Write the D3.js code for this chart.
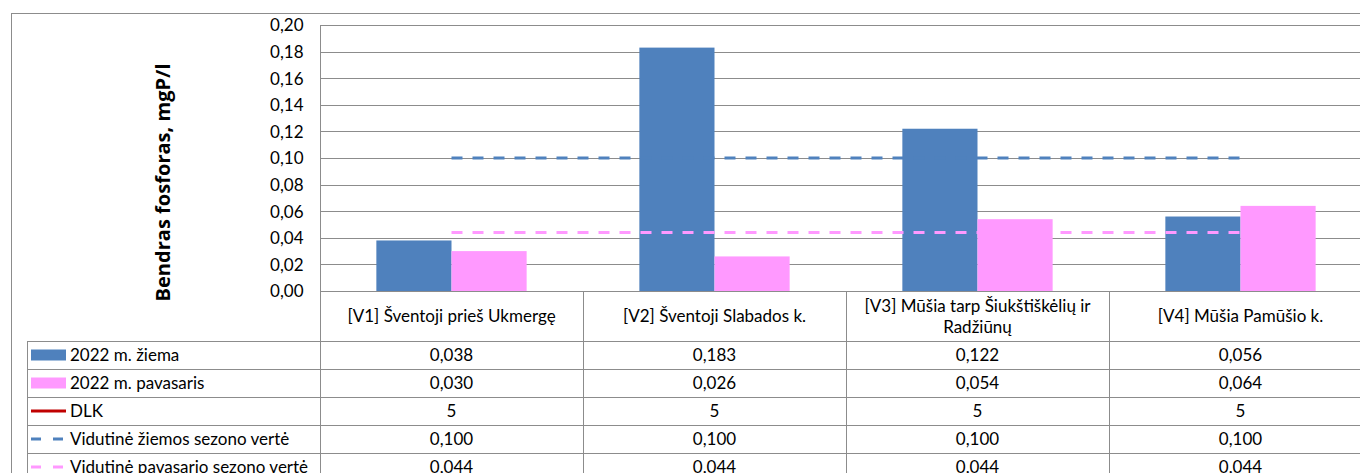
<!DOCTYPE html>
<html lang="lt">

<head>
    <meta charset="utf-8">
    <title>Bendras fosforas</title>
    <script type="text/javascript" src="https://d3js.org/d3.v7.min.js"></script>
    <style>
        body {
            margin: 0;
            background: white;
        }

        svg text {
            font-family: Lato, "Open Sans", sans-serif;
            font-size: 17px;
            fill: #000;
        }
    </style>
</head>

<body>
    <div id="chart"></div>
    <script type="text/javascript">
        // data
        const categories = ["[V1] Šventoji prieš Ukmergę", "[V2] Šventoji Slabados k.",
            "[V3] Mūšia tarp Šiukštiškėlių ir Radžiūnų", "[V4] Mūšia Pamūšio k."];
        const seriesNames = ["2022 m. žiema", "2022 m. pavasaris", "DLK",
            "Vidutinė žiemos sezono vertė", "Vidutinė pavasario sezono vertė"];
        const ziema = [0.038, 0.183, 0.122, 0.056];
        const pavasaris = [0.030, 0.026, 0.054, 0.064];
        const dlk = [5, 5, 5, 5];
        const vidZiema = [0.100, 0.100, 0.100, 0.100];
        const vidPavasaris = [0.044, 0.044, 0.044, 0.044];
        const yTicks = [0, 0.02, 0.04, 0.06, 0.08, 0.10, 0.12, 0.14, 0.16, 0.18, 0.20];

        const width = 1360;
        const height = 473;
        const plot = { left: 320, top: 25, bottom: 291, band: 263 };
        const rowH = 28;
        const tableTop = 341;
        const gridColor = "#8c8c8c";

        const lt = d3.formatLocale({ decimal: ",", thousands: " ", grouping: [3], currency: ["", ""] });
        const f2 = lt.format(".2f");
        const f3 = lt.format(".3f");

        const series = [
            { name: seriesNames[0], values: ziema, type: "bar", color: "#4f81bd", fmt: f3 },
            { name: seriesNames[1], values: pavasaris, type: "bar", color: "#ff99ff", fmt: f3 },
            { name: seriesNames[2], values: dlk, type: "line", color: "#c00000", fmt: lt.format("d") },
            { name: seriesNames[3], values: vidZiema, type: "dash", color: "#4f81bd", fmt: f3 },
            { name: seriesNames[4], values: vidPavasaris, type: "dash", color: "#ff99ff", fmt: f3 }
        ];
        const bars = series.filter(s => s.type === "bar");

        const svg = d3.select("#chart")
            .append("svg")
            .attr("width", width)
            .attr("height", height);

        // chart border
        svg.append("rect")
            .attr("x", 11.5).attr("y", 13.5)
            .attr("width", width + 40).attr("height", height + 40)
            .attr("fill", "white")
            .attr("stroke", gridColor);

        const x = d3.scaleBand()
            .domain(categories)
            .range([plot.left, plot.left + plot.band * categories.length]);
        const xIn = d3.scaleBand()
            .domain(bars.map(s => s.name))
            .range([0, x.bandwidth()])
            .paddingOuter(0.75);
        const y = d3.scaleLinear()
            .domain([0, 0.2])
            .range([plot.bottom, plot.top]);

        const plotRight = plot.left + plot.band * categories.length;

        // gridlines
        svg.append("g")
            .selectAll("line")
            .data(yTicks.slice(1))
            .join("line")
            .attr("x1", plot.left).attr("x2", plotRight)
            .attr("y1", d => Math.round(y(d)) + 0.5).attr("y2", d => Math.round(y(d)) + 0.5)
            .attr("stroke", gridColor);

        // y axis
        const yAxis = d3.axisLeft(y).tickValues(yTicks).tickFormat(f2).tickSize(0).tickPadding(17);
        const gy = svg.append("g")
            .attr("transform", `translate(${plot.left + 0.5},0.5)`)
            .call(yAxis);
        gy.select(".domain").remove();
        gy.selectAll("text").style("font-family", "Lato, sans-serif").style("font-size", "17px");
        svg.append("line")
            .attr("x1", plot.left + 0.5).attr("x2", plot.left + 0.5)
            .attr("y1", plot.top).attr("y2", tableTop + rowH * 5)
            .attr("stroke", gridColor);

        // y title
        svg.append("text")
            .attr("transform", `translate(170,182.5) rotate(-90)`)
            .attr("text-anchor", "middle")
            .attr("textLength", 238)
            .attr("lengthAdjust", "spacing")
            .style("font-family", "'Open Sans', Lato, sans-serif")
            .style("font-size", "20px")
            .style("font-weight", "bold")
            .text("Bendras fosforas, mgP/l");

        // bars
        bars.forEach(s => {
            svg.append("g")
                .selectAll("rect")
                .data(s.values.map((v, i) => ({ cat: categories[i], v })))
                .join("rect")
                .attr("x", d => x(d.cat) + xIn(s.name))
                .attr("y", d => y(d.v))
                .attr("width", xIn.bandwidth())
                .attr("height", d => y(0) - y(d.v))
                .attr("fill", s.color);
        });

        // lines
        svg.append("clipPath").attr("id", "clip")
            .append("rect")
            .attr("x", plot.left).attr("y", plot.top - 2)
            .attr("width", plotRight - plot.left).attr("height", plot.bottom - plot.top + 2);
        const line = d3.line()
            .x((d, i) => x(categories[i]) + x.bandwidth() / 2)
            .y(d => y(d));
        series.filter(s => s.type !== "bar").forEach(s => {
            svg.append("path")
                .attr("clip-path", "url(#clip)")
                .attr("d", line(s.values))
                .attr("fill", "none")
                .attr("stroke", s.color)
                .attr("stroke-width", 3)
                .attr("stroke-dasharray", s.type === "dash" ? "11,10" : null);
        });

        // x axis line
        svg.append("line")
            .attr("x1", plot.left).attr("x2", plotRight)
            .attr("y1", plot.bottom + 0.5).attr("y2", plot.bottom + 0.5)
            .attr("stroke", gridColor);

        // data table
        const table = svg.append("g");
        const rows = series.map((s, i) => tableTop + i * rowH);

        // horizontal lines
        table.selectAll("line.h")
            .data(rows.concat([tableTop + rowH * 5]))
            .join("line")
            .attr("x1", 27).attr("x2", plotRight)
            .attr("y1", d => d + 0.5).attr("y2", d => d + 0.5)
            .attr("stroke", gridColor);
        // vertical lines
        table.append("line")
            .attr("x1", 27.5).attr("x2", 27.5)
            .attr("y1", tableTop).attr("y2", tableTop + rowH * 5)
            .attr("stroke", gridColor);
        table.selectAll("line.v")
            .data(categories)
            .join("line")
            .attr("x1", d => x(d) + x.bandwidth() + 0.5).attr("x2", d => x(d) + x.bandwidth() + 0.5)
            .attr("y1", plot.bottom).attr("y2", tableTop + rowH * 5)
            .attr("stroke", gridColor);

        // category labels with wrapping
        const catG = table.selectAll("text.cat")
            .data(categories)
            .join("text")
            .attr("class", "cat")
            .attr("text-anchor", "middle");
        catG.each(function (d) {
            const t = d3.select(this);
            const words = d.split(" ");
            const lines = [];
            let cur = [];
            words.forEach(w => {
                cur.push(w);
                t.text(cur.join(" "));
                if (this.getComputedTextLength() > x.bandwidth() - 20 && cur.length > 1) {
                    cur.pop();
                    lines.push(cur.join(" "));
                    cur = [w];
                }
            });
            lines.push(cur.join(" "));
            t.text(null);
            const cy = (plot.bottom + tableTop) / 2 + 6 - (lines.length - 1) * 10.5;
            lines.forEach((l, k) => {
                t.append("tspan")
                    .attr("x", x(d) + x.bandwidth() / 2)
                    .attr("y", cy + k * 21)
                    .text(l);
            });
        });

        // legend keys and values
        series.forEach((s, i) => {
            const cy = rows[i] + rowH / 2;
            if (s.type === "bar") {
                table.append("rect")
                    .attr("x", 31).attr("y", cy - 5.5)
                    .attr("width", 35).attr("height", 11)
                    .attr("fill", s.color);
            } else {
                table.append("line")
                    .attr("x1", 31).attr("x2", 66)
                    .attr("y1", cy).attr("y2", cy)
                    .attr("stroke", s.color)
                    .attr("stroke-width", 3)
                    .attr("stroke-dasharray", s.type === "dash" ? "10,12" : null);
            }
            table.append("text")
                .attr("x", 70).attr("y", cy + 6)
                .text(s.name);
            table.selectAll(null)
                .data(s.values)
                .join("text")
                .attr("x", (d, k) => x(categories[k]) + x.bandwidth() / 2)
                .attr("y", cy + 6)
                .attr("text-anchor", "middle")
                .text(d => s.fmt(d));
        });
    </script>
</body>

</html>
